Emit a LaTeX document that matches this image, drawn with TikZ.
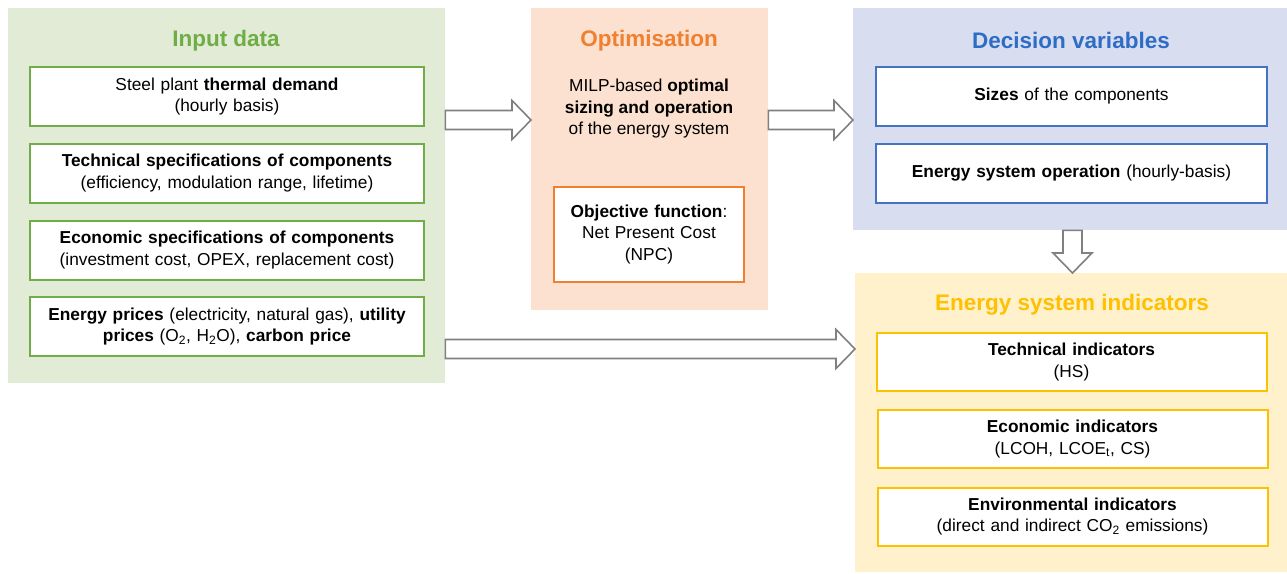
\documentclass[tikz,border=0pt]{standalone}
\usepackage{fontspec}
\setmainfont{Liberation Sans}
\usetikzlibrary{calc}
\definecolor{gpanel}{HTML}{E2EBD5}
\definecolor{gline}{HTML}{70AD47}
\definecolor{opanel}{HTML}{FCE0D0}
\definecolor{oline}{HTML}{F07F2E}
\definecolor{bpanel}{HTML}{D8DEF0}
\definecolor{bline}{HTML}{4472C4}
\definecolor{btitle}{HTML}{2E6DC6}
\definecolor{ypanel}{HTML}{FFF1CB}
\definecolor{yline}{HTML}{FFC000}
\definecolor{agray}{HTML}{808080}
\tikzset{
  panel/.style={draw=none, anchor=north west, inner sep=0pt},
  ptitle/.style={font=\fontsize{22.5}{26}\selectfont\bfseries, inner sep=0pt},
  ibox/.style={draw, fill=white, line width=2pt, align=center, inner sep=0pt,
    font=\fontsize{17.3}{21.5}\selectfont},
  btext/.style={align=center, inner sep=0pt, font=\fontsize{17.3}{21.5}\selectfont},
  blk/.style={draw=agray, fill=white, line width=1.6pt, line join=miter},
}
\newcommand{\harrowpath}[2]{%
  \draw[blk] let \p1=(#1), \p2=(#2) in
    (\x1,\y1+9.5pt) -- (\x2-19pt,\y1+9.5pt) -- (\x2-19pt,\y1+19.5pt) -- (\x2,\y1)
    -- (\x2-19pt,\y1-19.5pt) -- (\x2-19pt,\y1-9.5pt) -- (\x1,\y1-9.5pt) -- cycle;}
\newcommand{\varrowpath}[2]{%
  \draw[blk] let \p1=(#1), \p2=(#2) in
    (\x1-9.5pt,\y1) -- (\x1-9.5pt,\y2+20pt) -- (\x1-19.5pt,\y2+20pt) -- (\x1,\y2)
    -- (\x1+19.5pt,\y2+20pt) -- (\x1+9.5pt,\y2+20pt) -- (\x1+9.5pt,\y1) -- cycle;}
\begin{document}
\begin{tikzpicture}[x=1pt,y=-1pt]
\useasboundingbox (0,0) rectangle (1287,573);
% panels
\node[panel, fill=gpanel, minimum width=437pt, minimum height=375pt] (green) at (8,8) {};
\node[panel, fill=opanel, minimum width=237pt, minimum height=302pt] (opt) at (531,8) {};
\node[panel, fill=bpanel, minimum width=434pt, minimum height=222pt] (blue) at (853,8) {};
\node[panel, fill=ypanel, minimum width=432pt, minimum height=299pt] (yel) at (855,273) {};
% titles
\node[ptitle, text=gline] (t1) at (226,41) {Input data};
\node[ptitle, text=oline] (t2) at (649,41) {Optimisation};
\node[ptitle, text=btitle] (t3) at (1071,40) {Decision variables};
\node[ptitle, text=yline] (t4) at (1072,305) {Energy system indicators};
% input boxes
\tikzset{gb/.style={ibox, draw=gline, minimum width=394pt, minimum height=59pt, text width=390pt}}
\node[gb] (g1) at (227,96.5) {Steel plant \textbf{thermal demand}\\(hourly basis)};
\node[gb] (g2) at (227,173) {\textbf{Technical specifications of components}\\(efficiency, modulation range, lifetime)};
\node[gb] (g3) at (227,250) {\textbf{Economic specifications of components}\\(investment cost, OPEX, replacement cost)};
\node[gb] (g4) at (227,326.5) {\textbf{Energy prices} (electricity, natural gas), \textbf{utility}\\\textbf{prices} (O\textsubscript{2}, H\textsubscript{2}O), \textbf{carbon price}};
% optimisation
\node[btext] (milp) at (649,109) {MILP-based \textbf{optimal}\\\textbf{sizing and operation}\\of the energy system};
\node[ibox, draw=oline, minimum width=190pt, minimum height=95pt, text width=186pt] (obj) at (649,234.5)
  {\textbf{Objective function}:\\Net Present Cost\\(NPC)};
% decision variables
\tikzset{bb/.style={ibox, draw=bline, minimum width=391pt, minimum height=59pt, text width=387pt}}
\node[bb] (b1) at (1071.5,96.5) {\textbf{Sizes} of the components};
\node[bb] (b2) at (1071.5,173) {\textbf{Energy system operation} (hourly-basis)};
% indicators
\tikzset{yb/.style={ibox, draw=yline, minimum width=390pt, minimum height=58pt, text width=386pt}}
\node[yb] (y1) at (1071.5,362) {\textbf{Technical indicators}\\(HS)};
\node[yb] (y2) at (1072.5,439) {\textbf{Economic indicators}\\(LCOH, LCOE\textsubscript{t}, CS)};
\node[yb] (y3) at (1072.5,516.5) {\textbf{Environmental indicators}\\(direct and indirect CO\textsubscript{2} emissions)};
% arrows
\coordinate (r1) at (0,120);
\coordinate (r2) at (0,349);
\coordinate (c1) at (1072.5,0);
\harrowpath{green.east |- r1}{opt.west |- r1}
\harrowpath{opt.east |- r1}{blue.west |- r1}
\harrowpath{green.east |- r2}{yel.west |- r2}
\varrowpath{c1 |- blue.south}{c1 |- yel.north}
\end{tikzpicture}
\end{document}
